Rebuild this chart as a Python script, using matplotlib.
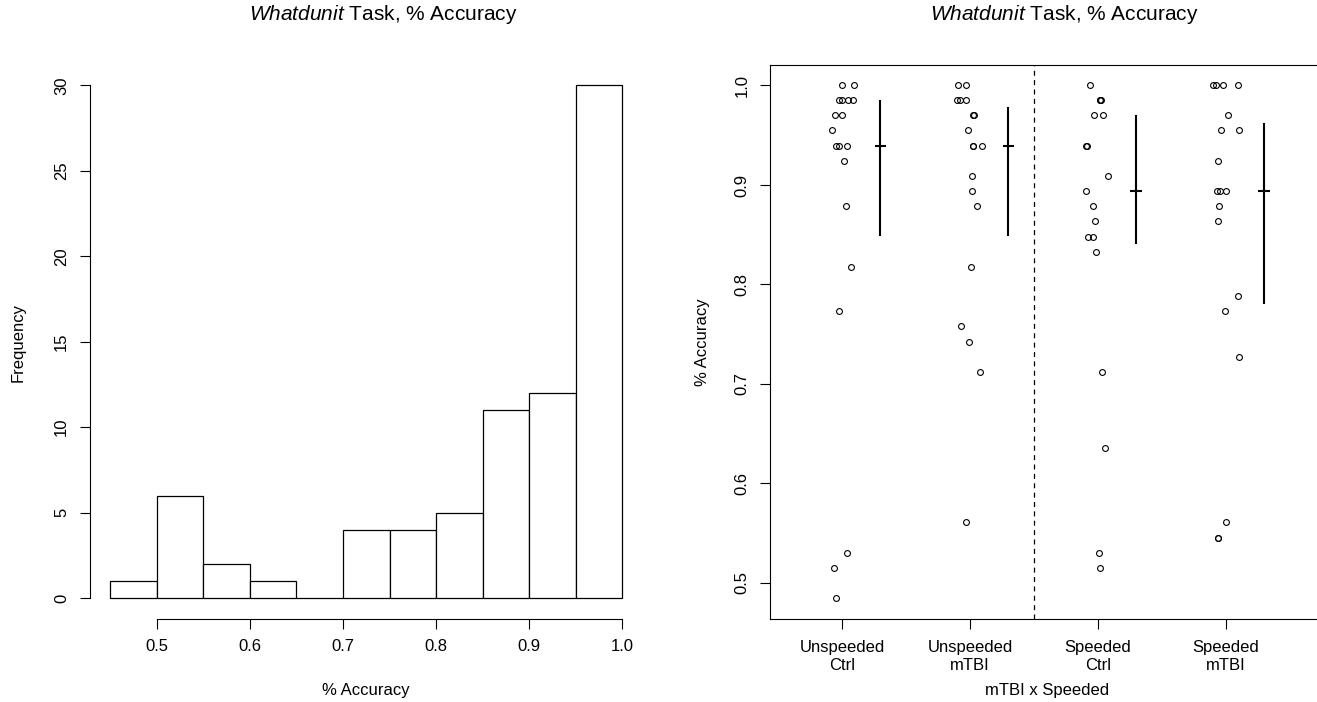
import numpy as np
import matplotlib
matplotlib.use("Agg")
import matplotlib.pyplot as plt

plt.rcParams['font.family'] = ['Liberation Sans', 'DejaVu Sans']
plt.rcParams['mathtext.fontset'] = 'custom'
plt.rcParams['mathtext.rm'] = 'Liberation Sans'
plt.rcParams['mathtext.it'] = 'Liberation Sans:italic'

# Accuracy per participant (x jitter in group units)
ctrl_acc = [1.0, 1.0, 0.985, 0.985, 0.985, 0.985, 0.970, 0.970, 0.955, 0.939,
            0.939, 0.939, 0.924, 0.879, 0.818, 0.773, 0.530, 0.515, 0.485]
ctrl_dx = [0.002, 0.091, -0.023, 0.002, 0.047, 0.084, -0.055, -0.002, -0.078, -0.047,
           -0.026, 0.041, 0.018, 0.034, 0.070, -0.026, 0.039, -0.060, -0.050]

mtbi_acc = [1.0, 1.0, 0.985, 0.985, 0.985, 0.970, 0.970, 0.955, 0.939, 0.939,
            0.939, 0.909, 0.894, 0.879, 0.818, 0.758, 0.742, 0.712, 0.561]
mtbi_dx = [-0.091, -0.029, -0.099, -0.076, -0.031, 0.022, 0.030, -0.013, 0.020, 0.027,
           0.094, 0.013, 0.013, 0.057, 0.008, -0.070, -0.005, 0.076, -0.034]

sp_ctrl_acc = [1.0, 0.985, 0.985, 0.985, 0.970, 0.970, 0.939, 0.939, 0.909, 0.894,
               0.879, 0.864, 0.848, 0.848, 0.833, 0.712, 0.636, 0.530, 0.515]
sp_ctrl_dx = [-0.065, 0.012, 0.016, 0.020, -0.029, 0.041, -0.091, -0.088, 0.078, -0.091,
              -0.039, -0.021, -0.076, -0.041, -0.018, 0.029, 0.055, 0.010, 0.016]

sp_mtbi_acc = [1.0, 1.0, 1.0, 1.0, 0.970, 0.955, 0.955, 0.924, 0.894, 0.894,
               0.894, 0.879, 0.864, 0.788, 0.773, 0.727, 0.561, 0.545, 0.545]
sp_mtbi_dx = [-0.099, -0.078, -0.026, 0.094, 0.018, -0.041, 0.102, -0.063, -0.068, -0.047,
              0.000, -0.052, -0.063, 0.091, -0.005, 0.102, 0.000, -0.063, -0.060]

group_labels = ["Unspeeded\nCtrl", "Unspeeded\nmTBI", "Speeded\nCtrl", "Speeded\nmTBI"]
group_means = [0.939, 0.939, 0.894, 0.894]
group_lo = [0.849, 0.849, 0.841, 0.780]
group_hi = [0.985, 0.978, 0.970, 0.962]
bar_dx = 0.30

hist_breaks = [0.45, 0.50, 0.55, 0.60, 0.65, 0.70, 0.75, 0.80, 0.85, 0.90, 0.95, 1.0]

groups = [(ctrl_acc, ctrl_dx), (mtbi_acc, mtbi_dx),
          (sp_ctrl_acc, sp_ctrl_dx), (sp_mtbi_acc, sp_mtbi_dx)]
all_acc = np.concatenate([g[0] for g in groups])

W, H = 1317, 702
fig = plt.figure(figsize=(W / 100, H / 100), dpi=100)
fs = 12


def px_axes(x0, y0, x1, y1):
    return fig.add_axes([x0 / W, 1 - y1 / H, (x1 - x0) / W, (y1 - y0) / H])


def style_ticks(ax):
    ax.tick_params(direction='out', length=7, width=0.8, labelsize=fs, pad=8, color='black')
    for lab in ax.get_yticklabels():
        lab.set_rotation(90)
        lab.set_va('center')


title = r'$\mathit{Whatdunit}$ Task, % Accuracy'

# Left: histogram
ax1 = px_axes(90, 65, 642.5, 618.5)
ax1.hist(all_acc, bins=hist_breaks, color='white', edgecolor='black', linewidth=0.9)
ax1.set_xlim(0.428, 1.022)
ax1.set_ylim(-1.2, 31.2)
ax1.set_xticks([0.5, 0.6, 0.7, 0.8, 0.9, 1.0])
ax1.set_xticklabels(["0.5", "0.6", "0.7", "0.8", "0.9", "1.0"])
ax1.set_yticks([0, 5, 10, 15, 20, 25, 30])
for s in ['top', 'right']:
    ax1.spines[s].set_visible(False)
ax1.spines['left'].set_bounds(0, 30)
ax1.spines['bottom'].set_bounds(0.5, 1.0)
for s in ['left', 'bottom']:
    ax1.spines[s].set_linewidth(0.8)
style_ticks(ax1)
fig.text(383 / W, 1 - 15 / H, title, ha='center', va='center', fontsize=15)
fig.text(366 / W, 1 - 691 / H, "% Accuracy", ha='center', va='center', fontsize=fs)
fig.text(18 / W, 1 - 342 / H, "Frequency", ha='center', va='center', rotation=90, fontsize=fs)

# Right: strip chart with mean and interval
ax2 = px_axes(770.5, 65, 1324, 618.7)
for i, (acc, dx) in enumerate(groups):
    xs = np.array(dx) + (i + 1)
    ax2.plot(xs, acc, 'o', mfc='none', mec='black', ms=4.2, mew=0.8, clip_on=False)
    xb = i + 1 + bar_dx
    ax2.plot([xb, xb], [group_lo[i], group_hi[i]], color='black', lw=1.5, solid_capstyle='butt')
    ax2.plot([xb - 0.046, xb + 0.046], [group_means[i], group_means[i]], color='black', lw=1.5,
             solid_capstyle='butt')
ax2.axvline(2.5, color='black', lw=0.9, linestyle=(0, (4, 3.5)))
ax2.set_xlim(0.441, 4.766)
ax2.set_ylim(0.4641, 1.0206)
ax2.set_xticks([1, 2, 3, 4])
ax2.set_xticklabels(group_labels, linespacing=1.25)
ax2.set_yticks([0.5, 0.6, 0.7, 0.8, 0.9, 1.0])
ax2.set_yticklabels(["0.5", "0.6", "0.7", "0.8", "0.9", "1.0"])
for s in ax2.spines.values():
    s.set_linewidth(0.8)
style_ticks(ax2)
fig.text(1064 / W, 1 - 15 / H, title, ha='center', va='center', fontsize=15)
fig.text(1047 / W, 1 - 691 / H, "mTBI x Speeded", ha='center', va='center', fontsize=fs)
fig.text(702 / W, 1 - 342 / H, "% Accuracy", ha='center', va='center', rotation=90, fontsize=fs)

fig.savefig("out.png", dpi=100)
